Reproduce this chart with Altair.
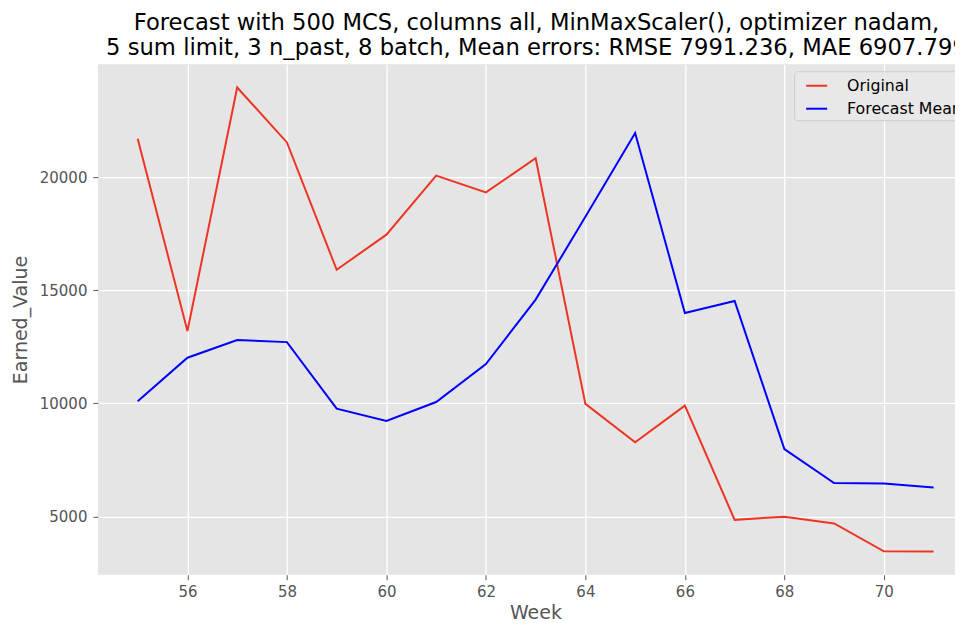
import altair as alt
import pandas as pd

weeks = list(range(55, 72))
original = [21700, 13200, 23970, 21540, 15910, 17460, 20075, 19330, 20840,
            9980, 8280, 9900, 4850, 4990, 4690, 3460, 3450]
forecast_mean = [10100, 12020, 12800, 12710, 9770, 9220, 10060, 11740, 14590,
                 18250, 21960, 14000, 14530, 7980, 6480, 6460, 6280]
series_names = ["Original", "Forecast Mean"]
series_colors = ["#EE3524", "#0000FF"]
x_ticks = [56, 58, 60, 62, 64, 66, 68, 70]
y_ticks = [5000, 10000, 15000, 20000]
title_lines = [
    "Forecast with 500 MCS, columns all, MinMaxScaler(), optimizer nadam,",
    "5 sum limit, 3 n_past, 8 batch, Mean errors: RMSE 7991.236, MAE 6907.799",
]

rows = []
for name, vals in zip(series_names, [original, forecast_mean]):
    for w, v in zip(weeks, vals):
        rows.append({"Week": w, "Earned_Value": v, "series": name})
df = pd.DataFrame(rows)

allv = original + forecast_mean
lo, hi = min(allv), max(allv)
m = 0.05 * (hi - lo)
y_dom = [lo - m, hi + m]
x_lo = weeks[0] - 0.05 * (weeks[-1] - weeks[0])
x_dom = [x_lo, 71.43]

W, H = 858, 511
FONT = "DejaVu Sans"

chart = alt.Chart(df).mark_line(strokeWidth=2, clip=True).encode(
    x=alt.X("Week:Q", scale=alt.Scale(domain=x_dom, nice=False, zero=False),
            axis=alt.Axis(values=x_ticks, format="d", title="Week",
                          titleX=438, titleY=44, titleBaseline="alphabetic")),
    y=alt.Y("Earned_Value:Q", scale=alt.Scale(domain=y_dom, nice=False, zero=False),
            axis=alt.Axis(values=y_ticks, format="d", title="Earned_Value",
                          titleX=-71, titleY=H / 2, titleAngle=270,
                          titleAlign="center", titleBaseline="alphabetic")),
    color=alt.Color("series:N",
                    scale=alt.Scale(domain=series_names, range=series_colors),
                    legend=alt.Legend(title=None, orient="none", legendX=697, legendY=7,
                                      symbolType="stroke", symbolSize=441,
                                      symbolStrokeWidth=2, symbolOffset=8,
                                      labelFontSize=15.8,
                                      labelColor="#000000", labelFont=FONT,
                                      fillColor="#E8E8E8", strokeColor="#CCCCCC",
                                      cornerRadius=3, padding=3, rowPadding=3,
                                      labelOffset=19)),
).properties(
    width=W, height=H,
    title=alt.TitleParams(title_lines, fontSize=22.7, font=FONT, fontWeight="normal",
                          color="#000000", anchor="middle", lineHeight=25,
                          offset=5, dx=10),
    autosize=alt.AutoSizeParams(type="none"),
    padding={"left": 90, "top": 56, "right": 0, "bottom": 46},
).configure_view(
    fill="#E5E5E5", stroke=None
).configure_axis(
    grid=True, gridColor="#FFFFFF", gridWidth=1.3, domain=False,
    tickColor="#555555", tickSize=5, tickWidth=1,
    labelColor="#555555", labelFontSize=15, labelFont=FONT,
    titleColor="#555555", titleFontSize=19, titleFont=FONT, titleFontWeight="normal",
).configure_axisX(labelPadding=5).configure_axisY(labelPadding=6)

chart.save("out.html", embed_options={"renderer": "svg", "actions": False})
